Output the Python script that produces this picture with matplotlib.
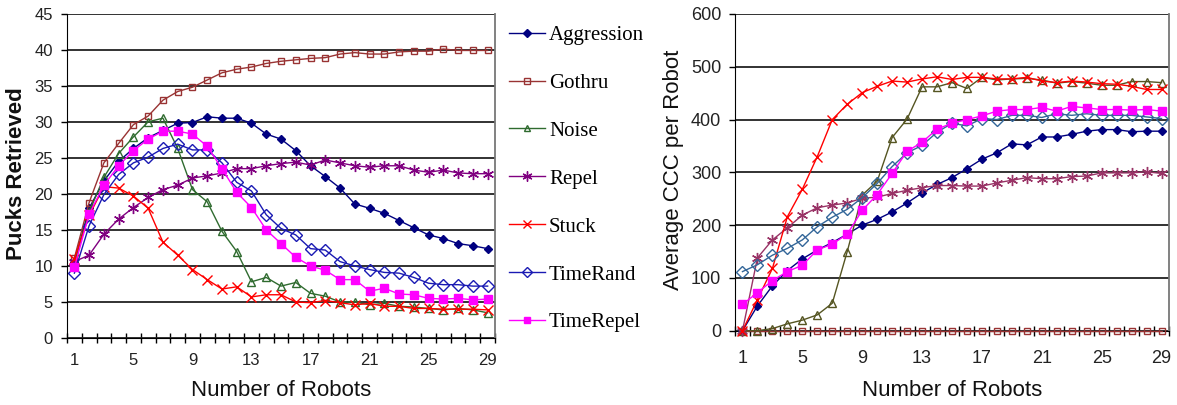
import matplotlib
matplotlib.use("Agg")
import matplotlib.pyplot as plt
import numpy as np

robots = list(range(1, 30))
series_names = ["Aggression", "Gothru", "Noise", "Repel", "Stuck", "TimeRand", "TimeRepel"]

pucks_aggression = [10.5, 18.0, 21.8, 24.5, 26.3, 27.8, 28.8, 29.8, 29.9, 30.7, 30.5, 30.5, 29.8, 28.3, 27.6,
                    26.0, 23.9, 22.4, 20.8, 18.6, 18.0, 17.3, 16.3, 15.3, 14.3, 13.8, 13.1, 12.8, 12.4]
pucks_gothru = [11.1, 18.8, 24.3, 27.0, 29.6, 30.8, 33.0, 34.2, 34.8, 35.8, 36.8, 37.3, 37.6, 38.1, 38.4,
                38.6, 38.8, 38.9, 39.4, 39.6, 39.4, 39.4, 39.7, 39.8, 39.8, 40.1, 39.9, 39.9, 39.9]
pucks_noise = [10.5, 17.5, 22.3, 25.6, 27.9, 30.0, 30.5, 26.3, 20.6, 18.9, 14.8, 12.0, 7.8, 8.4, 7.2,
               7.7, 6.2, 5.8, 5.0, 5.0, 4.6, 4.8, 4.4, 4.3, 4.1, 3.9, 4.1, 3.9, 3.5]
pucks_repel = [10.6, 11.5, 14.4, 16.5, 18.1, 19.5, 20.6, 21.2, 22.2, 22.5, 22.9, 23.5, 23.5, 23.9, 24.2,
               24.4, 24.0, 24.7, 24.3, 23.9, 23.7, 23.9, 23.9, 23.3, 23.0, 23.3, 22.9, 22.8, 22.8]
pucks_stuck = [11.0, 17.0, 21.0, 20.8, 19.7, 18.0, 13.3, 11.5, 9.5, 8.1, 6.8, 7.1, 5.7, 6.0, 6.0,
               5.0, 4.9, 5.2, 4.9, 4.6, 4.8, 4.4, 4.4, 4.1, 4.1, 4.0, 4.0, 4.0, 3.9]
pucks_timerand = [9.0, 15.6, 19.9, 22.7, 24.3, 25.1, 26.3, 26.9, 26.1, 26.1, 24.3, 21.6, 20.4, 17.1, 15.2,
                  14.3, 12.4, 12.2, 10.6, 10.0, 9.5, 9.1, 9.0, 8.4, 7.6, 7.4, 7.4, 7.2, 7.2]
pucks_timerepel = [9.8, 17.2, 21.2, 23.9, 26.0, 27.6, 28.7, 28.7, 28.3, 26.6, 23.5, 20.2, 18.1, 15.0, 13.1,
                   11.2, 10.0, 9.4, 8.1, 8.1, 6.5, 6.9, 6.1, 6.0, 5.5, 5.4, 5.5, 5.3, 5.4]

ccc_aggression = [0, 47, 85, 114, 136, 153, 167, 183, 200, 211, 225, 242, 261, 277, 290,
                  307, 325, 337, 354, 352, 367, 367, 372, 378, 381, 381, 377, 378, 378]
ccc_gothru = [0, 0, 0, 0, 0, 0, 0, 0, 0, 0, 0, 0, 0, 0, 0,
              0, 0, 0, 0, 0, 0, 0, 0, 0, 0, 0, 0, 0, 0]
ccc_noise = [0, 0, 4, 13, 20, 30, 52, 150, 257, 283, 366, 401, 462, 462, 470,
             459, 480, 475, 477, 478, 475, 469, 472, 469, 465, 465, 472, 472, 470]
ccc_repel = [0, 138, 172, 195, 219, 233, 238, 242, 251, 253, 260, 266, 271, 275, 275,
             274, 274, 280, 285, 290, 288, 288, 292, 293, 299, 299, 299, 301, 298]
ccc_stuck = [0, 59, 118, 216, 268, 330, 400, 429, 451, 463, 473, 471, 477, 481, 476,
             480, 480, 477, 477, 480, 473, 470, 473, 471, 468, 467, 463, 457, 457]
ccc_timerand = [112, 125, 143, 156, 172, 197, 215, 230, 252, 279, 311, 337, 351, 376, 393,
                388, 402, 400, 408, 408, 404, 411, 408, 411, 408, 408, 408, 405, 402]
ccc_timerepel = [50, 72, 95, 112, 124, 153, 164, 183, 228, 258, 298, 340, 357, 382, 393,
                 400, 407, 416, 419, 419, 423, 416, 425, 422, 419, 419, 418, 419, 416]

x_tick_labels = [1, 5, 9, 13, 17, 21, 25, 29]

left_data = [pucks_aggression, pucks_gothru, pucks_noise, pucks_repel, pucks_stuck, pucks_timerand, pucks_timerepel]
right_data = [ccc_aggression, ccc_gothru, ccc_noise, ccc_repel, ccc_stuck, ccc_timerand, ccc_timerepel]

left_colors = ["#000080", "#993333", "#2f6b2f", "#800080", "#ff0000", "#1a1ab3", "#ff00ff"]
right_colors = ["#000080", "#993333", "#555522", "#993366", "#ff0000", "#336699", "#ff00ff"]
markers = ["D", "s", "^", (6, 2, 0), "x", "D", "s"]
msizes = [4.5, 5, 5.5, 8, 7, 6, 5.5]
filled = [True, False, False, True, True, False, True]

sans = "Liberation Sans"
serif = "Liberation Serif"

fig = plt.figure(figsize=(11.77, 4.05), dpi=100)
W, H = 1177, 405
axL = fig.add_axes([67 / W, 1 - 338 / H, (495 - 67) / W, (338 - 13.7) / H])
axR = fig.add_axes([735 / W, 1 - 330.7 / H, (1169 - 735) / W, (330.7 - 14) / H])


def draw(ax, data, colors, ymax, ystep, fs_tick, xpad):
    handles = []
    for vals, name, c, m, ms, f in zip(data, series_names, colors, markers, msizes, filled):
        h, = ax.plot(robots, vals, color=c, lw=1.0, marker=m, ms=ms,
                     markerfacecolor=(c if f else "none"), markeredgecolor=c,
                     markeredgewidth=1.0, label=name, clip_on=False, zorder=3)
        handles.append(h)
    ax.set_xlim(0.5, 29.5)
    ax.set_ylim(0, ymax)
    ax.set_yticks(np.arange(0, ymax + 0.1, ystep))
    ax.yaxis.grid(True, color="#222222", lw=1.3)
    ax.set_axisbelow(True)
    ax.set_xticks(x_tick_labels)
    ax.set_xticks(np.arange(0.5, 29.6, 1), minor=True)
    ax.tick_params(axis="x", which="major", length=0, pad=xpad, labelsize=fs_tick)
    ax.tick_params(axis="x", which="minor", direction="inout", length=6.5, width=1.0)
    ax.tick_params(axis="y", which="major", direction="out", length=4, width=1.0, pad=6, labelsize=fs_tick)
    for lab in ax.get_xticklabels() + ax.get_yticklabels():
        lab.set_fontfamily(sans)
        lab.set_color("#222222")
    ax.spines["top"].set_visible(False)
    ax.spines["right"].set_color("#777777")
    ax.spines["right"].set_linewidth(1.3)
    ax.spines["left"].set_color("black")
    ax.spines["bottom"].set_color("black")
    return handles


hL = draw(axL, left_data, left_colors, 45, 5, 12, 11)
draw(axR, right_data, right_colors, 600, 100, 13, 14)

axL.set_xlabel("Number of Robots", fontfamily=sans, fontsize=16, color="#111111")
axL.xaxis.set_label_coords(0.5, -0.13)
axR.set_xlabel("Number of Robots", fontfamily=sans, fontsize=16, color="#111111")
axR.xaxis.set_label_coords(0.5, -0.155)

fig.text(17 / W, 1 - 174 / H, "Pucks Retrieved", rotation=90, ha="center", va="center",
         fontfamily=sans, fontsize=16, fontweight="bold", color="#111111")
fig.text(673 / W, 1 - 170 / H, "Average CCC per Robot", rotation=90, ha="center", va="center",
         fontfamily=sans, fontsize=16, color="#111111")

leg = fig.legend(handles=hL, labels=series_names, loc="upper left",
                 bbox_to_anchor=(501 / W, 1 - 17 / H), frameon=False,
                 prop={"family": serif, "size": 15}, handlelength=1.7,
                 handletextpad=0.2, labelspacing=1.36, borderaxespad=0, markerscale=0.9)

fig.savefig("out.png", dpi=100)
